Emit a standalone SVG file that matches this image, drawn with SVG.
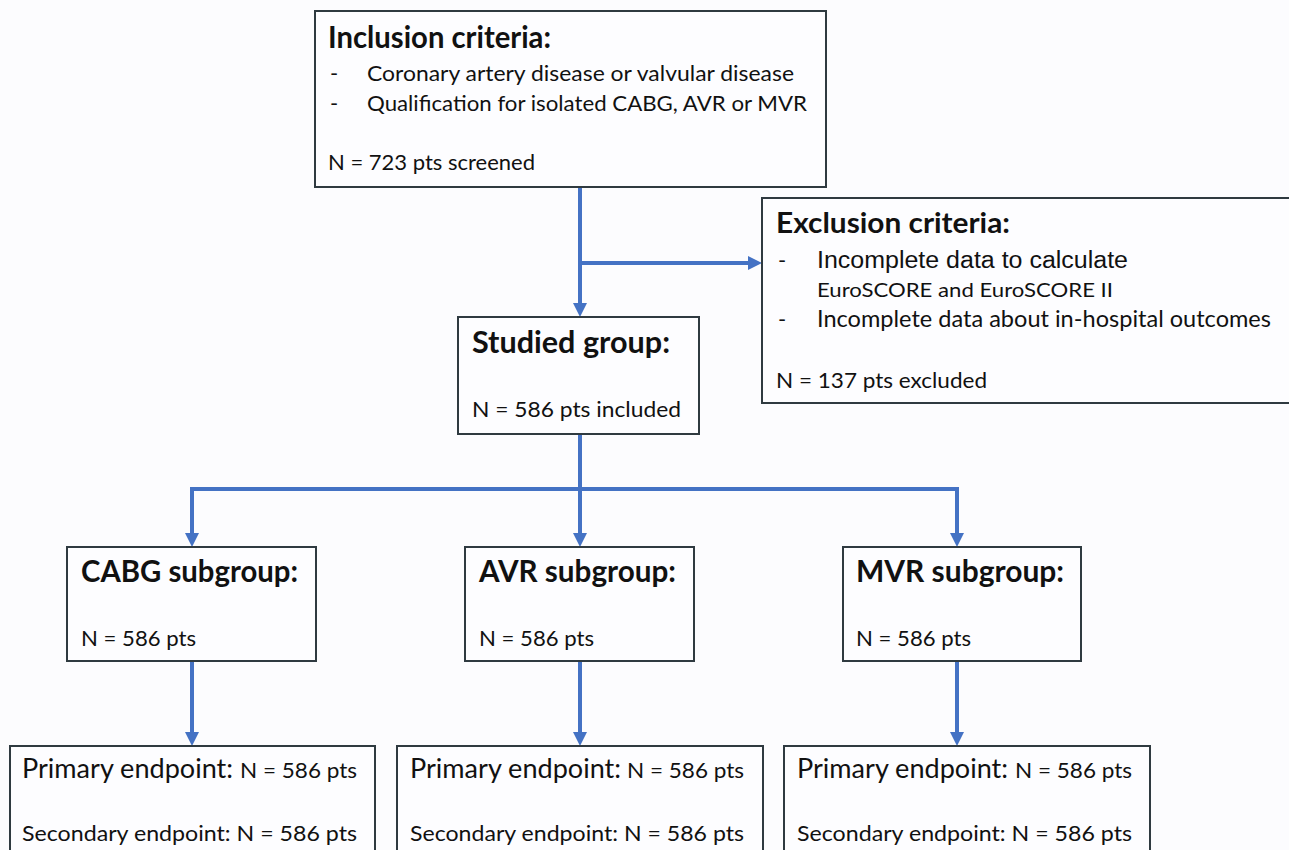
<svg xmlns="http://www.w3.org/2000/svg" width="1289" height="850" viewBox="0 0 1289 850">
<style>
.box{fill:#fdfdff;stroke:#2f3a40;stroke-width:2}
.con{fill:none;stroke:#4472c4;stroke-width:4}
.t{font-family:Lato,"Open Sans","Liberation Sans",sans-serif;fill:#111}
.b{font-weight:bold}
.a{font-family:"Liberation Sans",Arial,sans-serif;fill:#111}
</style>
<defs>
<marker id="ah" markerUnits="userSpaceOnUse" markerWidth="14" markerHeight="14" refX="4" refY="7" orient="auto">
<path d="M0,0 L14,7 L0,14 z" fill="#4472c4"/>
</marker>
</defs>
<rect width="1289" height="850" fill="#fcfcfe"/>
<g id="connectors">
<path class="con" d="M580,187 V307" marker-end="url(#ah)"/>
<path class="con" d="M580,263 H752" marker-end="url(#ah)"/>
<path class="con" d="M580,434 V537" marker-end="url(#ah)"/>
<path class="con" d="M190,489 H959"/>
<path class="con" d="M192,487 V537" marker-end="url(#ah)"/>
<path class="con" d="M957,487 V537" marker-end="url(#ah)"/>
<path class="con" d="M192,661 V736" marker-end="url(#ah)"/>
<path class="con" d="M580,661 V736" marker-end="url(#ah)"/>
<path class="con" d="M957,661 V736" marker-end="url(#ah)"/>
</g>
<g id="inclusion">
<rect class="box" x="315" y="11" width="511" height="176"/>
<text class="t b" x="328" y="48" font-size="30" textLength="223" lengthAdjust="spacingAndGlyphs">Inclusion criteria:</text>
<text class="t" x="330" y="81" font-size="22">-</text>
<text class="t" x="367" y="81" font-size="22" textLength="427" lengthAdjust="spacingAndGlyphs">Coronary artery disease or valvular disease</text>
<text class="t" x="330" y="111" font-size="22">-</text>
<text class="t" x="367" y="111" font-size="22" textLength="440" lengthAdjust="spacingAndGlyphs">Qualification for isolated CABG, AVR or MVR</text>
<text class="t" x="328" y="170" font-size="22" textLength="207" lengthAdjust="spacingAndGlyphs">N = 723 pts screened</text>
</g>
<g id="exclusion">
<rect class="box" x="762" y="198" width="530" height="205"/>
<text class="t b" x="776" y="233" font-size="29" textLength="234" lengthAdjust="spacingAndGlyphs">Exclusion criteria:</text>
<text class="t" x="778" y="268" font-size="22">-</text>
<text class="a" x="817" y="268" font-size="23" textLength="311" lengthAdjust="spacingAndGlyphs">Incomplete data to calculate</text>
<text class="t" x="817" y="297" font-size="20" textLength="296" lengthAdjust="spacingAndGlyphs">EuroSCORE and EuroSCORE II</text>
<text class="t" x="778" y="327" font-size="22">-</text>
<text class="t" x="817" y="327" font-size="23" textLength="454" lengthAdjust="spacingAndGlyphs">Incomplete data about in-hospital outcomes</text>
<text class="t" x="776" y="388" font-size="22" textLength="211" lengthAdjust="spacingAndGlyphs">N = 137 pts excluded</text>
</g>
<g id="studied">
<rect class="box" x="458" y="317" width="241" height="117"/>
<text class="t b" x="472" y="353" font-size="30" textLength="198" lengthAdjust="spacingAndGlyphs">Studied group:</text>
<text class="t" x="472" y="417" font-size="22" textLength="209" lengthAdjust="spacingAndGlyphs">N = 586 pts included</text>
</g>
<g id="cabg">
<rect class="box" x="67" y="547" width="249" height="114"/>
<text class="t b" x="81" y="582" font-size="30" textLength="217" lengthAdjust="spacingAndGlyphs">CABG subgroup:</text>
<text class="t" x="81" y="646" font-size="22" textLength="115" lengthAdjust="spacingAndGlyphs">N = 586 pts</text>
</g>
<g id="avr">
<rect class="box" x="465" y="547" width="229" height="114"/>
<text class="t b" x="479" y="582" font-size="30" textLength="197" lengthAdjust="spacingAndGlyphs">AVR subgroup:</text>
<text class="t" x="479" y="646" font-size="22" textLength="115" lengthAdjust="spacingAndGlyphs">N = 586 pts</text>
</g>
<g id="mvr">
<rect class="box" x="843" y="547" width="238" height="114"/>
<text class="t b" x="856" y="582" font-size="30" textLength="208" lengthAdjust="spacingAndGlyphs">MVR subgroup:</text>
<text class="t" x="856" y="646" font-size="22" textLength="115" lengthAdjust="spacingAndGlyphs">N = 586 pts</text>
</g>
<g id="cabg-endpoints">
<rect class="box" x="10" y="746" width="365" height="120"/>
<text class="t" x="22" y="778" font-size="27" textLength="211" lengthAdjust="spacingAndGlyphs">Primary endpoint:</text>
<text class="t" x="240" y="778" font-size="22" textLength="117" lengthAdjust="spacingAndGlyphs">N = 586 pts</text>
<text class="t" x="22" y="841" font-size="22" textLength="335" lengthAdjust="spacingAndGlyphs">Secondary endpoint: N = 586 pts</text>
</g>
<g id="avr-endpoints">
<rect class="box" x="397" y="746" width="366" height="120"/>
<text class="t" x="410" y="778" font-size="27" textLength="211" lengthAdjust="spacingAndGlyphs">Primary endpoint:</text>
<text class="t" x="627" y="778" font-size="22" textLength="117" lengthAdjust="spacingAndGlyphs">N = 586 pts</text>
<text class="t" x="410" y="841" font-size="22" textLength="334" lengthAdjust="spacingAndGlyphs">Secondary endpoint: N = 586 pts</text>
</g>
<g id="mvr-endpoints">
<rect class="box" x="784" y="746" width="366" height="120"/>
<text class="t" x="797" y="778" font-size="27" textLength="211" lengthAdjust="spacingAndGlyphs">Primary endpoint:</text>
<text class="t" x="1015" y="778" font-size="22" textLength="117" lengthAdjust="spacingAndGlyphs">N = 586 pts</text>
<text class="t" x="797" y="841" font-size="22" textLength="335" lengthAdjust="spacingAndGlyphs">Secondary endpoint: N = 586 pts</text>
</g>
</svg>
